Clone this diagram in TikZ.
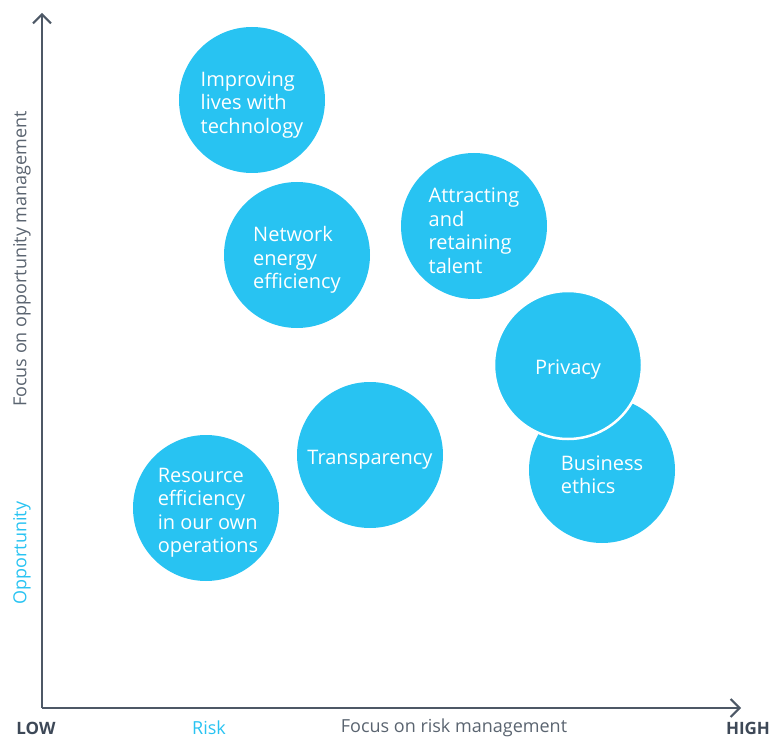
\documentclass[tikz,border=0pt]{standalone}
\usepackage{fontspec}
\setmainfont{Open Sans}
\usetikzlibrary{arrows.meta}
\definecolor{bub}{HTML}{28C3F2}
\definecolor{axis}{HTML}{4D5866}
\definecolor{lbl}{HTML}{5A6470}
\definecolor{dark}{HTML}{3D4857}
\tikzset{
  bubble/.style={circle, fill=bub, minimum size=146pt, inner sep=0pt},
  btext/.style={align=left, inner sep=0pt, text=white, font=\fontsize{20}{23.5}\selectfont, yshift=-5pt},
  axisline/.style={draw=axis, line width=2pt, -{Straight Barb[length=9pt,width=18pt,line width=2pt]}},
  axlabel/.style={text=lbl, font=\fontsize{18}{20}\selectfont, inner sep=0pt},
  hilo/.style={text=dark, font=\fontsize{17}{20}\selectfont\bfseries, inner sep=0pt},
  cyanlabel/.style={text=bub, font=\fontsize{18}{20}\selectfont, inner sep=0pt}
}
\begin{document}
\begin{tikzpicture}[x=1pt,y=-1pt]
\useasboundingbox (0,0) rectangle (774,738);
\coordinate (origin) at (42,708);
\coordinate (ytop) at (42,13);
\coordinate (xend) at (741,708);
\draw[axisline] (origin) -- (ytop);
\draw[axisline] (origin) -- (xend);

\node[bubble] (improving) at (252,100) {};
\node[btext] (improvingt) at (improving) {Improving\\lives with\\technology};
\node[bubble] (network) at (297,255) {};
\node[btext] (networkt) at (network) {Network\\energy\\efficiency};
\node[bubble] (talent) at (474,226) {};
\node[btext] (talentt) at (talent) {Attracting\\and\\retaining\\talent};
\node[bubble] (ethics) at (602,470) {};
\node[btext] (ethicst) at (ethics) {Business\\ethics};
\node[bubble, draw=white, line width=2.5pt, minimum size=148pt] (privacy) at (568,365) {};
\node[btext] (privacyt) at (privacy) {Privacy};
\node[bubble] (transparency) at (370,455) {};
\node[btext] (transparencyt) at (transparency) {Transparency};
\node[bubble] (resource) at (206,508) {};
\node[btext, xshift=2pt] (resourcet) at (resource) {Resource\\efficiency\\in our own\\operations};

\node[axlabel, rotate=90] (yfocus) at (22,259) {Focus on opportunity management};
\node[cyanlabel, rotate=90] (opp) at (22,553) {Opportunity};
\node[hilo] (low) at (36,728) {LOW};
\node[cyanlabel] (risk) at (209,728) {Risk};
\node[axlabel] (xfocus) at (454,728) {Focus on risk management};
\node[hilo] (high) at (748,728) {HIGH};
\end{tikzpicture}
\end{document}
